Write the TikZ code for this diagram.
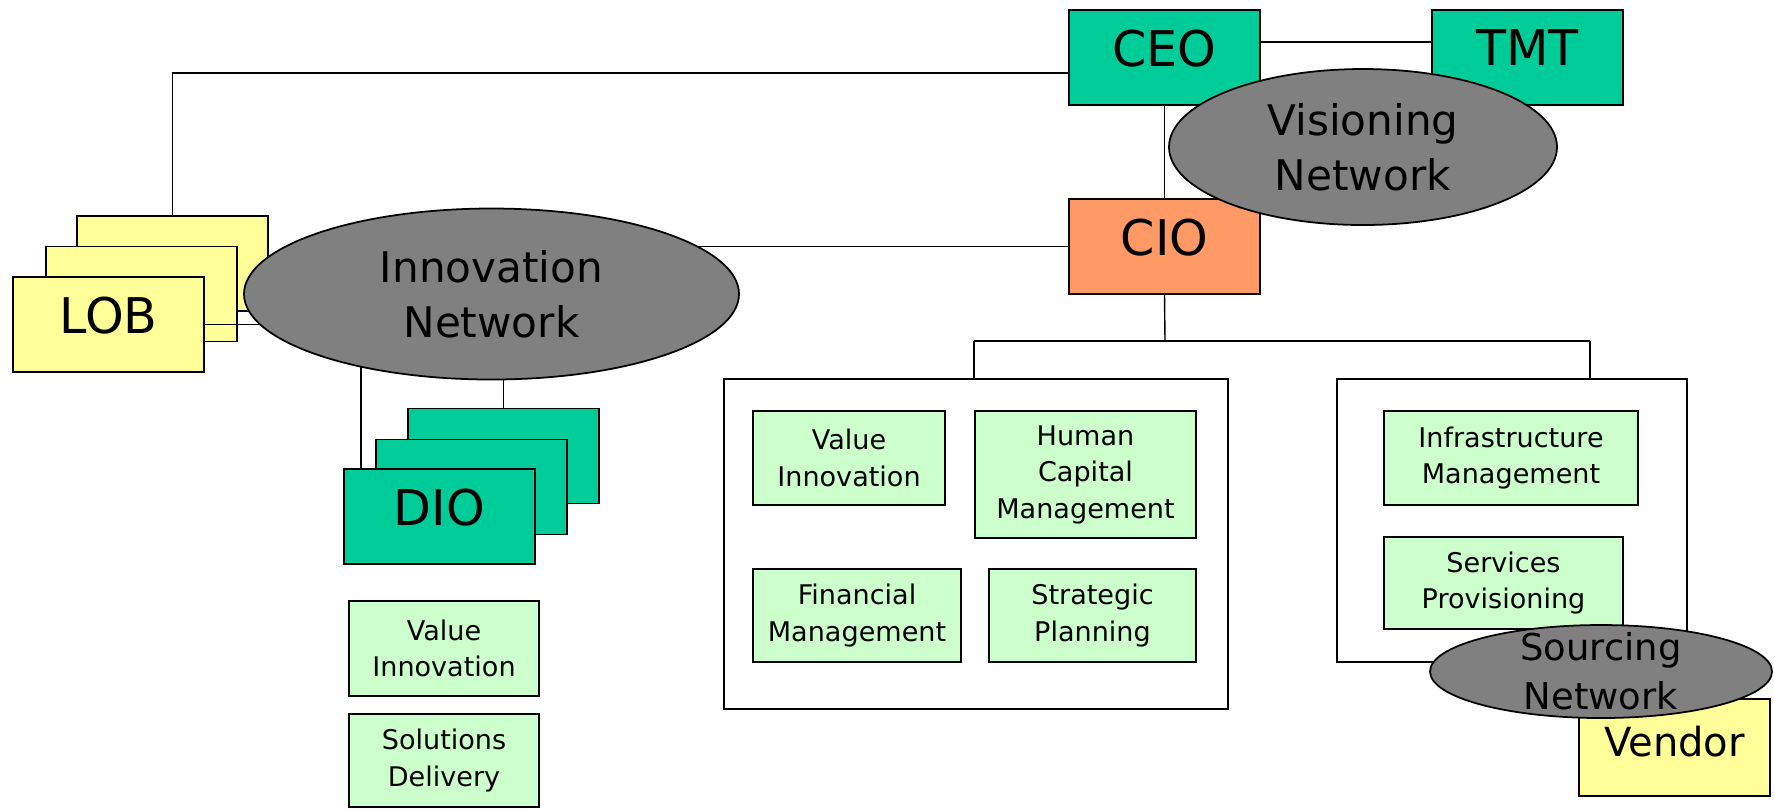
\documentclass[tikz,border=0pt]{standalone}
\usepackage{fontspec}
\setmainfont{DejaVu Sans}
\usetikzlibrary{shapes.geometric}

\definecolor{execgreen}{HTML}{00CC99}
\definecolor{cioorange}{HTML}{FF9966}
\definecolor{lobyellow}{HTML}{FFFF99}
\definecolor{unitgreen}{HTML}{CCFFCC}
\definecolor{netgray}{HTML}{808080}

\tikzset{
  exec/.style={draw, line width=0.5pt, fill=execgreen, minimum width=19.1mm, minimum height=9.5mm,
    text depth=1.9mm, font=\fontsize{14}{17}\selectfont},
  lob/.style={exec, fill=lobyellow},
  unit/.style={draw, line width=0.5pt, fill=unitgreen, align=center, inner sep=1pt,
    font=\fontsize{7.7}{10.4}\selectfont},
  group/.style={draw, line width=0.5pt, inner sep=0pt},
  network/.style={ellipse, draw, line width=0.5pt, fill=netgray, align=center, inner sep=0pt,
    font=\fontsize{12}{15.6}\selectfont},
}

\begin{document}
\begin{tikzpicture}[x=0.1mm, y=-0.1mm]
        \useasboundingbox (0,0) rectangle (1774,809);

        % Lines of business, stacked back to front
        \node[lob] (lob3) at (172.5,263.5) {};
        \node[lob] (lob2) at (141.5,294)   {};
        \node[lob] (lob1) at (108.5,324.5) {LOB};

        % Divisional offices, stacked the same way
        \node[exec] (dio3) at (503.5,456)   {};
        \node[exec] (dio2) at (471.5,487)   {};
        \node[exec] (dio1) at (439.5,516.5) {DIO};

        % Executives
        \node[exec] (ceo) at (1164.5,57.5) {CEO};
        \node[exec] (tmt) at (1527.5,57.5) {TMT};
        \node[exec, fill=cioorange] (cio) at (1164.5,246.5) {CIO};

        % DIO units
        \node[unit, minimum width=19mm, minimum height=9.5mm] (dvalue) at (444,648.5) {Value\\Innovation};
        \node[unit, minimum width=19mm, minimum height=9.3mm] (dsol)   at (444,760.5) {Solutions\\Delivery};

        % CIO groups and their units
        \node[group, minimum width=50.4mm, minimum height=33mm] (grpl) at (976,544) {};
        \node[unit, minimum width=19.2mm, minimum height=9.4mm]  (value) at (849,458)     {Value\\Innovation};
        \node[unit, minimum width=22.1mm, minimum height=12.7mm] (human) at (1085.5,474.5) {Human\\Capital\\Management};
        \node[unit, minimum width=20.8mm, minimum height=9.3mm]  (fin)   at (857,615.5)   {Financial\\Management};
        \node[unit, minimum width=20.7mm, minimum height=9.3mm]  (strat) at (1092.5,615.5) {Strategic\\Planning};

        \node[group, minimum width=35mm, minimum height=28.3mm] (grpr) at (1512,520.5) {};
        \node[unit, minimum width=25.4mm, minimum height=9.4mm] (infra) at (1511,458)   {Infrastructure\\Management};
        \node[unit, minimum width=23.9mm, minimum height=9.2mm] (serv)  at (1503.5,583) {Services\\Provisioning};

        \node[lob, minimum height=9.7mm, text depth=1.2mm, font=\fontsize{11.4}{14}\selectfont] (vendor) at (1674.5,747.5) {Vendor};

        % Centres of the networks, so links can end underneath them
        \coordinate (innovc)  at (491.5,294);
        \coordinate (visionc) at (1363,147);
        \coordinate (sourcec) at (1601,671.5);
        \coordinate (bus)  at (1165,341);
        \coordinate (busl) at (974,341);
        \coordinate (busr) at (1590,341);
        \coordinate (dioline) at ([xshift=1.8mm]dio1.north west);

        % Links
        \draw (lob3.north) |- ([yshift=-1.55mm]ceo.west);
        \draw ([yshift=1.55mm]ceo.east) -- ([yshift=1.55mm]tmt.west);
        \draw (ceo.south) -- (cio.north);
        \draw (cio.west) -- (cio.west -| innovc);
        \draw (lob1.east) -- (lob1.east -| innovc);
        \draw (dio3.north) -- (dio3.north |- innovc);
        \draw (dioline) -- (dioline |- innovc);
        \draw (cio.south) -- (bus);
        \draw (busl) -- (busr);
        \draw (busl) -- (busl |- grpl.north);
        \draw (busr) -- (busr |- grpr.north);

        % Networks drawn last, over boxes and links
        \node[network, minimum width=49.5mm, minimum height=17.1mm] (innov)  at (innovc)  {Innovation\\Network};
        \node[network, minimum width=38.8mm, minimum height=15.6mm] (vision) at (visionc) {Visioning\\Network};
        \node[network, minimum width=34.2mm, minimum height=9.3mm,
              label={[name=sourcetxt, align=center, font=\fontsize{10.5}{14}\selectfont]center:Sourcing\\Network}]
              (source) at (sourcec) {};
    \end{tikzpicture}
\end{document}
